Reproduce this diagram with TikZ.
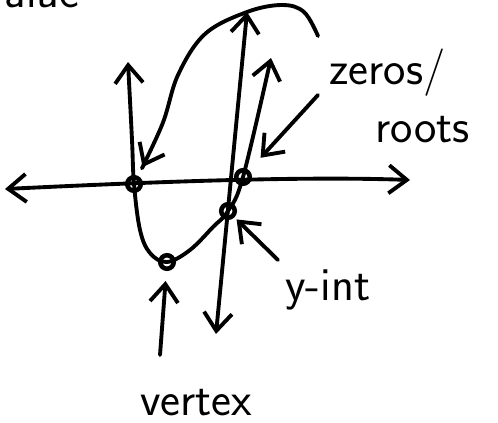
\documentclass[tikz,border=0pt]{standalone}
\usepackage{fontspec}
\usepackage{tikz}
\usetikzlibrary{arrows.meta}

\begin{document}
\begin{tikzpicture}[
  x=0.02cm, y=-0.02cm,
  pen/.style={line width=2.2pt, line cap=round, line join=round},
  arrow/.style={pen, -{Straight Barb[length=3.6mm, width=5.6mm]}},
  biarrow/.style={pen, {Straight Barb[length=3.6mm, width=5.6mm]}-{Straight Barb[length=3.6mm, width=5.6mm]}},
  dot/.style={circle, draw, line width=2.6pt, minimum size=2.7mm, inner sep=0pt},
  lbl/.style={font=\sffamily\fontsize{27}{29}\selectfont, inner sep=0pt}
]
\clip (0,0) rectangle (498,423);

% axes
\coordinate (xl) at (5,189);
\coordinate (xr) at (410,180);
\coordinate (yt) at (247,12);
\coordinate (yb) at (216,334);
\draw[biarrow] (xl) .. controls (150,182) and (300,176) .. (xr);
\draw[biarrow] (yt) -- (yb);

% marked points
\node[dot] (zl) at (134,184) {};
\node[dot] (zr) at (243,177) {};
\node[dot] (yint) at (228,211) {};
\node[dot] (vtx) at (167,262) {};

% parabola
\draw[biarrow] plot[smooth, tension=0.6] coordinates {(128,62) (132,140) (zl.center) (140,230) (150,253) (vtx.center) (190,250) (213,227) (yint.center) (zr.center) (271,58)};

% pointers
\coordinate (ztail) at (318,36);
\coordinate (ztail2) at (318,95);
\coordinate (ytail) at (278,260);
\coordinate (vtail) at (160,355);
\draw[arrow, shorten >=3.8mm] plot[smooth, tension=0.6] coordinates {(ztail) (304,12) (282,5) (247,12) (205,34) (178,75) (162,125) (zl.center)};
\draw[arrow, shorten >=3.4mm] (ztail2) -- (zr);
\draw[arrow, shorten >=0.6mm] (ytail) -- (yint);
\draw[arrow, shorten >=2mm] (vtail) -- (vtx);

% labels
\node[lbl, anchor=base east] (toplbl) at (80,7) {value};
\node[lbl, anchor=base west] (zeros) at (329,84) {zeros/};
\node[lbl, anchor=base west] (roots) at (375,142) {roots};
\node[lbl, anchor=base west] (yintlbl) at (285,300) {y-int};
\node[lbl, anchor=base west] (vertexlbl) at (140,415) {vertex};
\end{tikzpicture}
\end{document}
